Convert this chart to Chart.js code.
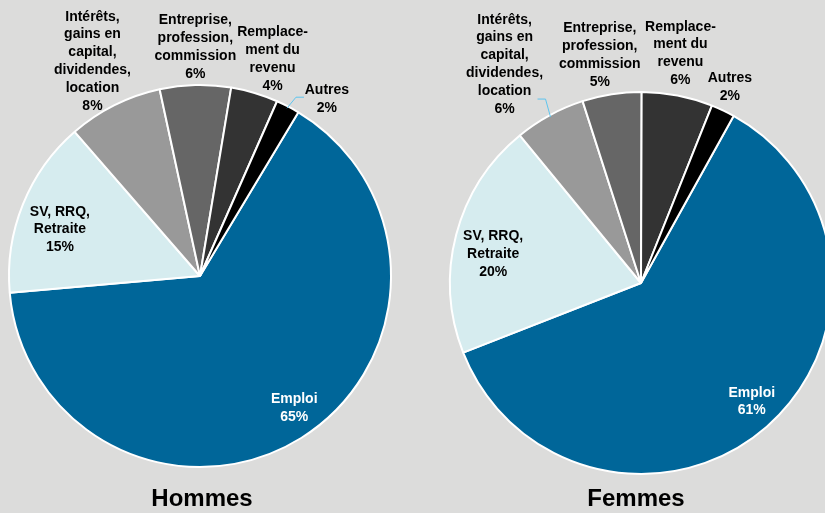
<!DOCTYPE html>
<html>
<head>
<meta charset="utf-8">
<script src="https://cdn.jsdelivr.net/npm/chart.js@4"></script>
<style>
  html, body { margin: 0; padding: 0; background: #dcdcdb; overflow: hidden; width: 825px; height: 513px; }
  canvas { position: absolute; top: 0; }
  #hommesChart { left: 0; }
  #femmesChart { left: 412px; }
  .titre { position: absolute; top: 484px; font: bold 24px "Liberation Sans", Arial, sans-serif; color: #000; text-align: center; width: 200px; }
</style>
</head>
<body>
<canvas id="hommesChart" width="412" height="513"></canvas>
<canvas id="femmesChart" width="440" height="513"></canvas>
<div class="titre" style="left:102px">Hommes</div>
<div class="titre" style="left:536px">Femmes</div>

<script>
const categories = [
  ['Emploi'],
  ['SV, RRQ,', 'Retraite'],
  ['Intérêts,', 'gains en', 'capital,', 'dividendes,', 'location'],
  ['Entreprise,', 'profession,', 'commission'],
  ['Remplace-', 'ment du', 'revenu'],
  ['Autres']
];
const hommesValues = [65, 15, 8, 6, 4, 2];
const femmesValues = [61, 20, 6, 5, 6, 2];
const hommesLabels = ['65%', '15%', '8%', '6%', '4%', '2%'];
const femmesLabels = ['61%', '20%', '6%', '5%', '6%', '2%'];
const sliceColors = ['#006699', '#d6ecef', '#999999', '#666666', '#333333', '#000000'];

// label placement relative to the outer midpoint of each slice
const hommesOffsets = [[-7, -30], [37, 25], [-22, -44], [0, -38], [18, -34], [39, -7]];
const femmesOffsets = [[-15, -25], [37, 19], [-45, -51], [-12, -39], [3, -42], [7, -23]];
// leader lines: [slice index, elbow dx, elbow dy, end dx, end dy]
const hommesLeaders = [[5, 9, -11, 17, -11]];
const femmesLeaders = [[2, -5, -18, -13, -18]];

const pieLabels = {
  id: 'pieLabels',
  afterDatasetsDraw(chart, args, opts) {
    const ctx = chart.ctx;
    const arcs = chart.getDatasetMeta(0).data;
    ctx.save();
    ctx.strokeStyle = '#5ec4ee';
    ctx.lineWidth = 1;
    opts.leaders.forEach(l => {
      const a = arcs[l[0]];
      const mid = (a.startAngle + a.endAngle) / 2;
      const px = a.x + Math.cos(mid) * (a.outerRadius - 2);
      const py = a.y + Math.sin(mid) * (a.outerRadius - 2);
      ctx.beginPath();
      ctx.moveTo(px, py);
      ctx.lineTo(px + l[1], py + l[2]);
      ctx.lineTo(px + l[3], py + l[4]);
      ctx.stroke();
    });
    ctx.font = 'bold 14px "Liberation Sans", Arial, sans-serif';
    ctx.textAlign = 'center';
    ctx.textBaseline = 'middle';
    const lh = 17.8;
    arcs.forEach((a, i) => {
      const mid = (a.startAngle + a.endAngle) / 2;
      const px = a.x + Math.cos(mid) * a.outerRadius + opts.offsets[i][0];
      const py = a.y + Math.sin(mid) * a.outerRadius + opts.offsets[i][1];
      const lines = categories[i].concat([opts.pct[i]]);
      const top = py - (lines.length - 1) * lh / 2;
      ctx.fillStyle = i === 0 ? '#ffffff' : '#000000';
      lines.forEach((t, k) => ctx.fillText(t, px, top + k * lh));
    });
    ctx.restore();
  }
};

function createPie(id, values, pct, offsets, leaders, rotation, padding) {
  const ctx = document.getElementById(id).getContext('2d');
  new Chart(ctx, {
    type: 'pie',
    data: {
      labels: categories.map(c => c.join(' ')),
      datasets: [{
        data: values,
        backgroundColor: sliceColors,
        borderColor: '#ffffff',
        borderWidth: 2
      }]
    },
    options: {
      responsive: false,
      animation: false,
      rotation: rotation,
      layout: { padding: padding },
      plugins: {
        legend: { display: false },
        tooltip: { enabled: false },
        pieLabels: { offsets: offsets, leaders: leaders, pct: pct }
      }
    },
    plugins: [pieLabels]
  });
}

createPie('hommesChart', hommesValues, hommesLabels, hommesOffsets, hommesLeaders, 31,
  { left: 8, right: 20, top: 84, bottom: 45 });
createPie('femmesChart', femmesValues, femmesLabels, femmesOffsets, femmesLeaders, 29,
  { left: 37, right: 19, top: 91, bottom: 38 });
</script>
</body>
</html>
